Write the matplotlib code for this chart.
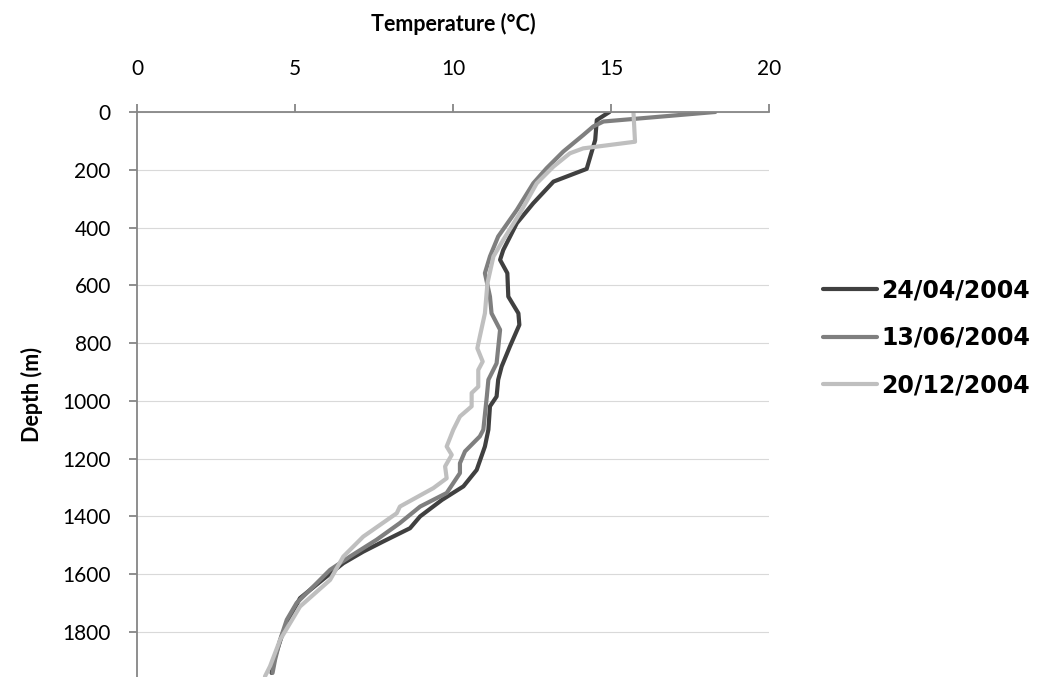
import matplotlib.pyplot as plt

# profiles
labels = ["24/04/2004", "13/06/2004", "20/12/2004"]

depth_apr = [0, 28, 97, 197, 241, 316, 385, 478, 512, 558, 639, 697, 737, 812, 881, 927, 985,
             1019, 1100, 1158, 1239, 1296, 1343, 1400, 1441, 1487, 1522, 1562, 1608, 1683,
             1758, 1815, 1884, 1942]
temp_apr = [14.95, 14.55, 14.5, 14.23, 13.18, 12.54, 12.02, 11.59, 11.49, 11.72, 11.75, 12.07,
            12.10, 11.80, 11.54, 11.43, 11.38, 11.17, 11.12, 11.01, 10.75, 10.33, 9.65, 8.96,
            8.64, 7.79, 7.16, 6.53, 6.0, 5.16, 4.79, 4.58, 4.37, 4.26]

depth_jun = [0, 33, 50, 80, 108, 137, 195, 247, 339, 431, 500, 558, 639, 697, 754, 870, 927,
             985, 1100, 1123, 1175, 1216, 1250, 1319, 1366, 1423, 1481, 1539, 1585, 1631,
             1700, 1758, 1827, 1896, 1942]
temp_jun = [18.3, 14.76, 14.44, 14.12, 13.81, 13.49, 12.96, 12.54, 12.02, 11.43, 11.17, 11.01,
            11.17, 11.22, 11.49, 11.38, 11.12, 11.07, 10.96, 10.85, 10.38, 10.22, 10.22, 9.80,
            8.96, 8.32, 7.58, 6.74, 6.11, 5.69, 5.05, 4.74, 4.53, 4.37, 4.29]

depth_dec = [0, 103, 126, 143, 189, 247, 350, 443, 500, 593, 697, 777, 818, 864, 893, 951,
             973, 1019, 1054, 1100, 1158, 1187, 1227, 1268, 1302, 1366, 1389, 1470, 1539,
             1620, 1712, 1827, 1919, 1954]
temp_dec = [15.71, 15.76, 14.12, 13.70, 13.18, 12.65, 12.12, 11.59, 11.28, 11.09, 11.01, 10.85,
            10.77, 10.94, 10.80, 10.80, 10.59, 10.59, 10.22, 10.01, 9.80, 9.96, 9.75, 9.80,
            9.38, 8.32, 8.22, 7.16, 6.53, 6.11, 5.16, 4.53, 4.21, 4.05]

x_ticks = [0, 5, 10, 15, 20]
y_ticks = [0, 200, 400, 600, 800, 1000, 1200, 1400, 1600, 1800]

colors = ["#404040", "#7f7f7f", "#bfbfbf"]

plt.rcParams['font.family'] = ['Lato', 'DejaVu Sans']

fig = plt.figure(figsize=(10.44, 6.77), dpi=100)
ax = fig.add_axes([0.1312, 0.0, 0.6054, 0.8346])

for t, d, c, lab in zip([temp_apr, temp_jun, temp_dec],
                        [depth_apr, depth_jun, depth_dec], colors, labels):
    ax.plot(t, d, color=c, lw=3.0, label=lab, solid_joinstyle='round', solid_capstyle='round')

ax.set_xlim(0, 20)
ax.set_ylim(1956, 0)
ax.set_xticks(x_ticks)
ax.set_yticks(y_ticks)
ax.xaxis.tick_top()
ax.xaxis.set_label_position('top')
ax.tick_params(axis='both', labelsize=15, length=5.8, width=1.3, color='#868686')
ax.tick_params(axis='y', pad=13)
ax.tick_params(axis='x', pad=18)

for s in ['right', 'bottom']:
    ax.spines[s].set_visible(False)
for s in ['top', 'left']:
    ax.spines[s].set_color('#868686')
    ax.spines[s].set_linewidth(1.3)

ax.yaxis.grid(True, color='#d9d9d9', lw=0.8)
ax.set_axisbelow(True)

ax.set_xlabel("Temperature (°C)", fontsize=15.5, fontweight='bold', labelpad=20)
ax.set_ylabel("Depth (m)", fontsize=15.5, fontweight='bold', labelpad=14)

leg = ax.legend(loc='center left', bbox_to_anchor=(1.067, 0.6), frameon=False, handlelength=2.3,
                handletextpad=0.15, labelspacing=1.0, borderpad=0,
                prop={'family': 'DejaVu Sans', 'size': 17, 'weight': 'bold'})

fig.savefig("out.png", dpi=100)
